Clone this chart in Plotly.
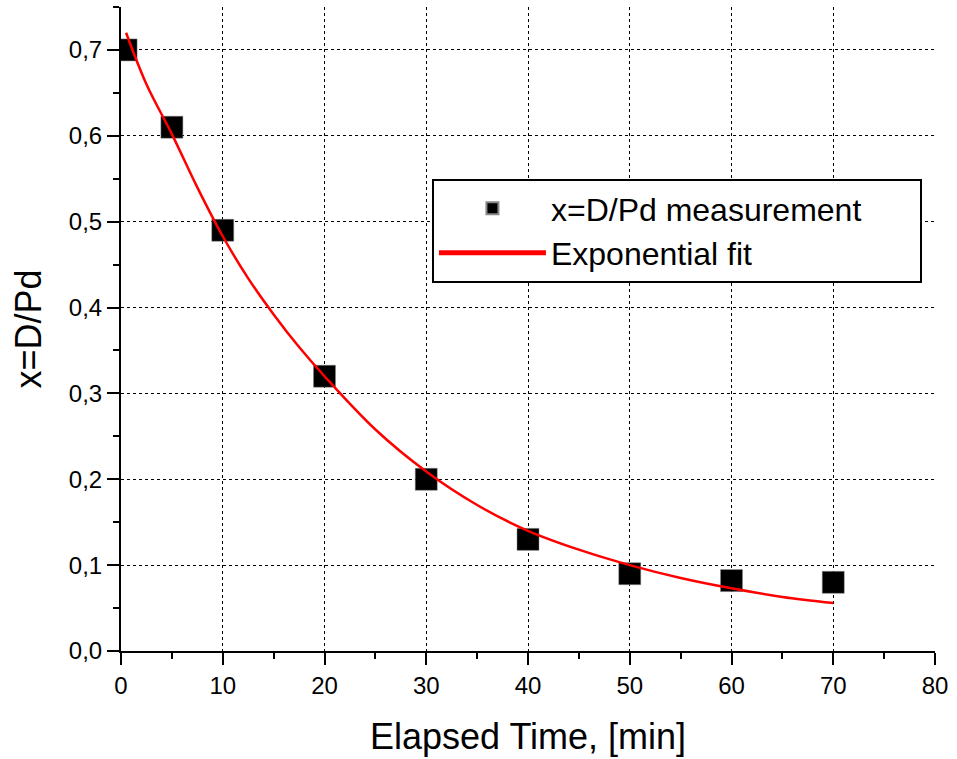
import plotly.graph_objects as go

# measured data
time_min = [0.5, 5, 10, 20, 30, 40, 50, 60, 70]
x_ratio = [0.70, 0.61, 0.49, 0.32, 0.20, 0.13, 0.09, 0.082, 0.080]

# exponential fit curve
fit_time = [0.5, 2.5, 5, 7.5, 10, 12.5, 15, 17.5, 20, 25, 30, 35, 40, 45, 50, 55, 60, 65, 70]
fit_value = [0.720, 0.660, 0.602, 0.540, 0.483, 0.434, 0.392, 0.354, 0.320, 0.258, 0.209, 0.170, 0.140, 0.118, 0.100, 0.085, 0.073, 0.063, 0.056]

x_ticks = [0, 10, 20, 30, 40, 50, 60, 70, 80]
x_grid = [10, 20, 30, 40, 50, 60, 70]
y_ticks = [0.0, 0.1, 0.2, 0.3, 0.4, 0.5, 0.6, 0.7]

FONT = "Liberation Sans, Arial, sans-serif"
NBSP = "\u00a0"

fig = go.Figure()
fig.add_trace(go.Scatter(
    x=time_min, y=x_ratio, mode="markers", name="x=D/Pd measurement" + NBSP * 6,
    marker=dict(symbol="square", size=22, color="black",
                line=dict(color="#888", width=0.5)),
))
fig.add_trace(go.Scatter(
    x=fit_time, y=fit_value, mode="lines", name="Exponential fit",
    line=dict(color="red", width=2.5, shape="spline"),
))
# invisible trace on overlay axis to hold the vertical grid
fig.add_trace(go.Scatter(x=[0, 80], y=[0, 0], mode="markers", xaxis="x2",
                         marker=dict(opacity=0), showlegend=False, hoverinfo="skip"))

fig.update_layout(
    width=957, height=759,
    margin=dict(l=121, r=22, t=7, b=108),
    paper_bgcolor="white", plot_bgcolor="white",
    separators=", ",
    font=dict(family=FONT, color="black"),
    showlegend=True,
    legend=dict(
        x=0.382, y=0.733, xanchor="left", yanchor="top",
        bordercolor="black", borderwidth=2, bgcolor="white",
        font=dict(size=32, family=FONT), itemsizing="constant",
        itemwidth=107, tracegroupgap=0,
    ),
    xaxis=dict(
        range=[0, 80], tickvals=x_ticks, showgrid=False,
        showline=True, linecolor="black", linewidth=2,
        ticks="outside", ticklen=12, tickwidth=2, tickcolor="black",
        minor=dict(dtick=5, ticks="outside", ticklen=6, tickwidth=2, tickcolor="black", showgrid=False),
        tickfont=dict(size=24), zeroline=False,
        title=dict(text="Elapsed Time, [min]", font=dict(size=36), standoff=26),
    ),
    xaxis2=dict(
        range=[0, 80], overlaying="x", tickvals=x_grid, showticklabels=False,
        showgrid=True, gridcolor="black", griddash="dot", gridwidth=1,
        showline=False, zeroline=False, ticks="",
    ),
    yaxis=dict(
        range=[0, 0.75], tickvals=y_ticks, tickformat=".1f",
        showgrid=True, gridcolor="black", griddash="dot", gridwidth=1,
        showline=True, linecolor="black", linewidth=2,
        ticks="outside", ticklen=12, tickwidth=2, tickcolor="black",
        minor=dict(dtick=0.05, ticks="outside", ticklen=6, tickwidth=2, tickcolor="black", showgrid=False),
        tickfont=dict(size=24), zeroline=False,
        title=dict(text="x=D/Pd", font=dict(size=36), standoff=16),
    ),
)

fig.write_html("out.html")
